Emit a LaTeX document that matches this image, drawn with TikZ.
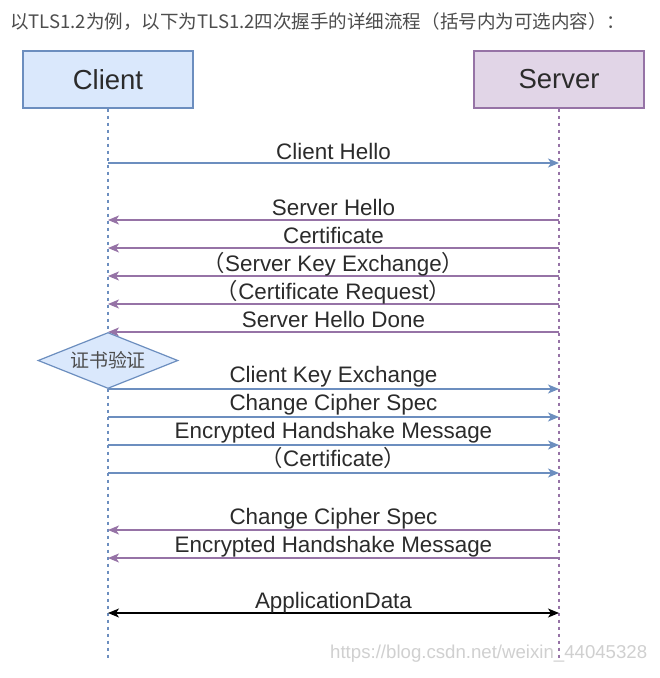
\documentclass[tikz,border=0pt]{standalone}
\usepackage{fontspec}
\usepackage{graphicx}
\setmainfont{Liberation Sans}
\newfontfamily\cjkfont{Noto Sans CJK SC}
\usetikzlibrary{arrows.meta,shapes.geometric}
\definecolor{cblue}{HTML}{6C8EBF}
\definecolor{cbluefill}{HTML}{DAE8FC}
\definecolor{cpurple}{HTML}{9673A6}
\definecolor{cpurplefill}{HTML}{E1D5E7}
\definecolor{ctext}{HTML}{2B2B2B}
\definecolor{ctitle}{HTML}{4D4D4D}
\definecolor{cwater}{HTML}{D0D0D0}
\newcommand{\lpar}{{\cjkfont （}}
\newcommand{\rpar}{{\cjkfont ）}}
\begin{document}
\begin{tikzpicture}[x=1pt,y=-1pt,
  actor/.style={draw, line width=1.2pt, minimum width=170pt, minimum height=57pt, inner sep=0pt,
     font=\fontsize{27.5}{30}\selectfont, text=ctext},
  lifeline/.style={line width=1.1pt, dash pattern=on 3.5pt off 3.5pt},
  msgto/.style={cblue, line width=1.4pt, -{Stealth[length=11pt,width=9pt,inset=3pt]}},
  msgfrom/.style={cpurple, line width=1.4pt, -{Stealth[length=11pt,width=9pt,inset=3pt]}},
  msglabel/.style={anchor=base, inner sep=0pt, font=\fontsize{22.4}{25}\selectfont, text=ctext},
]
\useasboundingbox (0,0) rectangle (660,678);
\fill[white] (0,0) rectangle (660,678);

\node[anchor=west, inner sep=0pt, text=ctitle] (title) at (10,22)
  {\resizebox{615pt}{!}{\cjkfont\fontsize{16}{18}\selectfont 以TLS1.2为例，以下为TLS1.2四次握手的详细流程（括号内为可选内容）：}};

\node[actor, fill=cbluefill, draw=cblue] (client) at (108,79.5) {Client};
\node[actor, fill=cpurplefill, draw=cpurple] (server) at (559,79.5) {Server};

\coordinate (cend) at (108,658);
\coordinate (send) at (559,658);
\draw[lifeline, cblue] (client.south) -- (cend);
\draw[lifeline, cpurple] (server.south) -- (send);

% message coordinates
\foreach \n/\y in {1/163,2/220,3/248,4/276,5/304,6/332,7/389,8/417,9/445,10/473,11/530,12/558,13/613}{
  \coordinate (c\n) at (108,\y);
  \coordinate (s\n) at (559,\y);
}

\draw[msgto] (c1) -- (s1);
\draw[msgfrom] (s2) -- (c2);
\draw[msgfrom] (s3) -- (c3);
\draw[msgfrom] (s4) -- (c4);
\draw[msgfrom] (s5) -- (c5);
\draw[msgfrom] (s6) -- (c6);

\node[diamond, draw=cblue, fill=cbluefill, line width=1.2pt, minimum width=140pt, minimum height=56pt,
  inner sep=0pt, aspect=2.5] (verify) at (108,360.5) {};
\node[text=ctitle, font=\cjkfont\fontsize{19}{21}\selectfont, inner sep=0pt] (verifylabel) at (verify.center) {证书验证};

\draw[msgto] (c7) -- (s7);
\draw[msgto] (c8) -- (s8);
\draw[msgto] (c9) -- (s9);
\draw[msgto] (c10) -- (s10);
\draw[msgfrom] (s11) -- (c11);
\draw[msgfrom] (s12) -- (c12);
\draw[black, line width=1.4pt, {Stealth[length=11pt,width=9pt,inset=3pt]}-{Stealth[length=11pt,width=9pt,inset=3pt]}] (c13) -- (s13);

\node[msglabel] (l1) at (333.5,159) {Client Hello};
\node[msglabel] (l2) at (333.5,215) {Server Hello};
\node[msglabel] (l3) at (333.5,243) {Certificate};
\node[msglabel] (l4) at (333.5,271) {\lpar Server Key Exchange\rpar};
\node[msglabel] (l5) at (333.5,299) {\lpar Certificate Request\rpar};
\node[msglabel] (l6) at (333.5,327) {Server Hello Done};
\node[msglabel] (l7) at (333.5,382) {Client Key Exchange};
\node[msglabel] (l8) at (333.5,410) {Change Cipher Spec};
\node[msglabel] (l9) at (333.5,438) {Encrypted Handshake Message};
\node[msglabel] (l10) at (333.5,466) {\lpar Certificate\rpar};
\node[msglabel] (l11) at (333.5,524) {Change Cipher Spec};
\node[msglabel] (l12) at (333.5,552) {Encrypted Handshake Message};
\node[msglabel] (l13) at (333.5,608) {ApplicationData};

\node[anchor=west, inner sep=0pt, text=cwater] (water) at (330,654)
  {\resizebox{317pt}{!}{\fontsize{17}{19}\selectfont https://blog.csdn.net/weixin\_44045328}};
\end{tikzpicture}
\end{document}
